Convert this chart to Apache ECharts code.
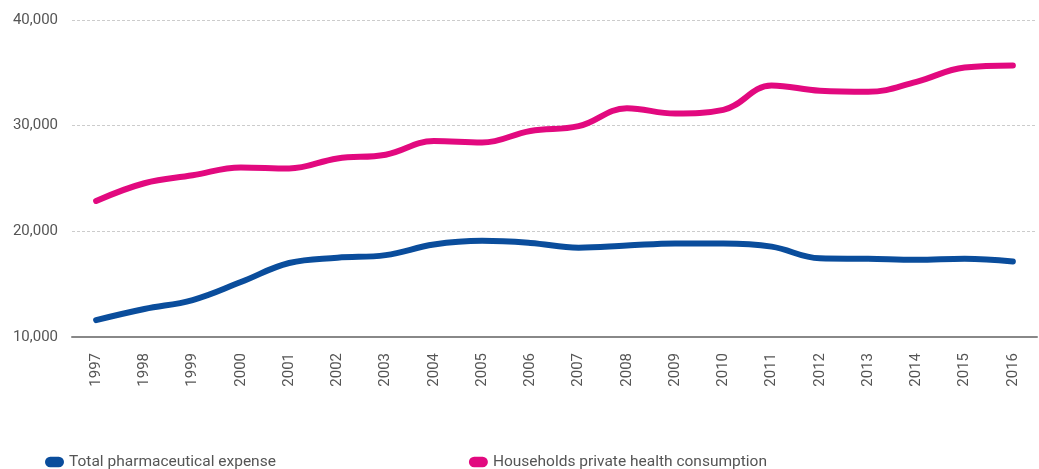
<!DOCTYPE html>
<html>
<head>
<meta charset="utf-8">
<script src="https://cdn.jsdelivr.net/npm/echarts@6/dist/echarts.min.js"></script>
<style>html,body{margin:0;padding:0;background:#fff;}#c{width:1039px;height:469px;}</style>
</head>
<body>
<div id="c"></div>
<script>
const years = ['1997','1998','1999','2000','2001','2002','2003','2004','2005','2006','2007','2008','2009','2010','2011','2012','2013','2014','2015','2016'];
const pharma = [11600,12650,13500,15200,17000,17500,17750,18750,19100,18900,18450,18650,18850,18850,18550,17450,17400,17300,17400,17150];
const households = [22870,24550,25300,26050,25950,26900,27250,28550,28400,29500,29950,31650,31150,31500,33800,33300,33200,34150,35500,35700];
const yTicks = {min:10000, max:40000, interval:10000};

const chart = echarts.init(document.getElementById('c'));
const pill = 'path://M5,0 H13 A5,5 0 0 1 13,10 H5 A5,5 0 0 1 5,0 Z';
chart.setOption({
  animation:false,
  textStyle:{fontFamily:'Roboto'},
  grid:{left:72,right:2,top:20,bottom:132},
  legend:{
    left:40, top:449, itemGap:193, itemWidth:19, itemHeight:11,
    icon:pill,
    textStyle:{fontSize:15.5,color:'#555',fontFamily:'Roboto'},
    data:['Total pharmaceutical expense','Households private health consumption']
  },
  xAxis:{
    type:'category', data:years, boundaryGap:true,
    axisLine:{lineStyle:{color:'#888',width:2}},
    axisTick:{show:false},
    axisLabel:{rotate:90,fontSize:15,color:'#555',margin:16}
  },
  yAxis:{
    type:'value', min:yTicks.min, max:yTicks.max, interval:yTicks.interval,
    axisLine:{show:false}, axisTick:{show:false},
    axisLabel:{fontSize:15,color:'#555',margin:14,formatter:v=>v.toLocaleString('en-US')},
    splitLine:{lineStyle:{color:'#ccc',type:[3,2],width:1}}
  },
  series:[
    {name:'Total pharmaceutical expense',type:'line',data:pharma,smooth:0.4,showSymbol:false,
     lineStyle:{color:'#0a4d9c',width:6,cap:'round'},itemStyle:{color:'#0a4d9c'}},
    {name:'Households private health consumption',type:'line',data:households,smooth:0.4,showSymbol:false,
     lineStyle:{color:'#e2097f',width:6,cap:'round'},itemStyle:{color:'#e2097f'}}
  ]
});
</script>
</body>
</html>
